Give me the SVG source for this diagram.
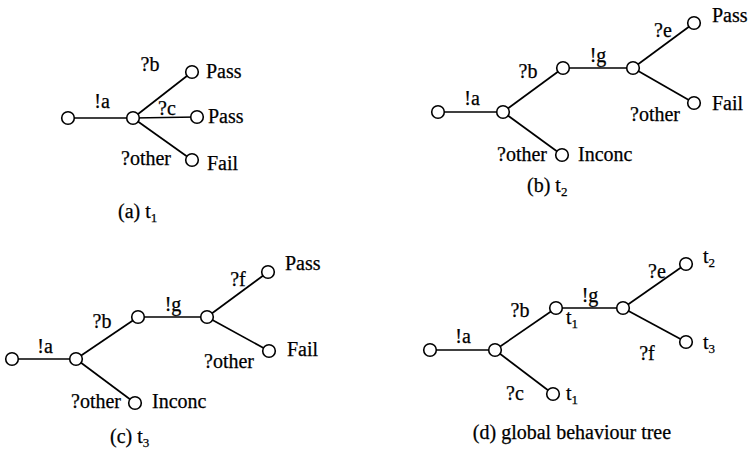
<svg xmlns="http://www.w3.org/2000/svg" width="748" height="457" viewBox="0 0 748 457">
<style>
.e{stroke:#000;stroke-width:1.7;fill:none}
text{font-family:"Liberation Serif","Times New Roman",serif;font-size:20px;fill:#000;stroke:#000;stroke-width:0.25}
.m{text-anchor:middle}
.s{font-size:13px}
</style>
<defs><circle id="c" r="6.3" fill="#fff" stroke="#000" stroke-width="1.6"/></defs>
<rect width="748" height="457" fill="#fff"/>

<!-- (a) -->
<g id="conn-a">
<line class="e" x1="68" y1="118" x2="133" y2="118"/>
<line class="e" x1="133" y1="118" x2="192" y2="72"/>
<line class="e" x1="133" y1="118" x2="197" y2="117"/>
<line class="e" x1="133" y1="118" x2="192" y2="160"/>
</g>
<g id="a-root" class="n"><use href="#c" x="68" y="118"/></g>
<g id="a-n1" class="n"><use href="#c" x="133" y="118"/></g>
<g id="a-pass1" class="n"><use href="#c" x="192" y="72"/><text x="206" y="78">Pass</text></g>
<g id="a-pass2" class="n"><use href="#c" x="197" y="117"/><text x="208" y="123">Pass</text></g>
<g id="a-fail" class="n"><use href="#c" x="192" y="160"/><text x="207" y="170">Fail</text></g>
<g id="a-labels">
<text class="m" x="102" y="108">!a</text>
<text class="m" x="150" y="71">?b</text>
<text class="m" x="167" y="115">?c</text>
<text class="m" x="146" y="165">?other</text>
<text x="118" y="218">(a) t<tspan class="s" dy="4">1</tspan></text>
</g>

<!-- (b) -->
<g id="conn-b">
<line class="e" x1="438" y1="112" x2="503" y2="112"/>
<line class="e" x1="503" y1="112" x2="563" y2="68"/>
<line class="e" x1="503" y1="112" x2="562" y2="155"/>
<line class="e" x1="563" y1="68" x2="633" y2="68"/>
<line class="e" x1="633" y1="68" x2="694" y2="23"/>
<line class="e" x1="633" y1="68" x2="694" y2="103"/>
</g>
<g id="b-root" class="n"><use href="#c" x="438" y="112"/></g>
<g id="b-n1" class="n"><use href="#c" x="503" y="112"/></g>
<g id="b-n2" class="n"><use href="#c" x="563" y="68"/></g>
<g id="b-n3" class="n"><use href="#c" x="633" y="68"/></g>
<g id="b-pass" class="n"><use href="#c" x="694" y="23"/><text x="712" y="22">Pass</text></g>
<g id="b-fail" class="n"><use href="#c" x="694" y="103"/><text x="712" y="110">Fail</text></g>
<g id="b-inconc" class="n"><use href="#c" x="562" y="155"/><text x="578" y="161">Inconc</text></g>
<g id="b-labels">
<text class="m" x="472" y="105">!a</text>
<text class="m" x="528" y="78">?b</text>
<text class="m" x="598" y="62">!g</text>
<text class="m" x="663" y="37">?e</text>
<text class="m" x="655" y="121">?other</text>
<text class="m" x="522" y="161">?other</text>
<text x="527" y="192">(b) t<tspan class="s" dy="4">2</tspan></text>
</g>

<!-- (c) -->
<g id="conn-c">
<line class="e" x1="12" y1="359" x2="76" y2="359"/>
<line class="e" x1="76" y1="359" x2="138" y2="317"/>
<line class="e" x1="76" y1="359" x2="135" y2="403"/>
<line class="e" x1="138" y1="317" x2="207" y2="317"/>
<line class="e" x1="207" y1="317" x2="268" y2="272"/>
<line class="e" x1="207" y1="317" x2="269" y2="351"/>
</g>
<g id="c-root" class="n"><use href="#c" x="12" y="359"/></g>
<g id="c-n1" class="n"><use href="#c" x="76" y="359"/></g>
<g id="c-n2" class="n"><use href="#c" x="138" y="317"/></g>
<g id="c-n3" class="n"><use href="#c" x="207" y="317"/></g>
<g id="c-pass" class="n"><use href="#c" x="268" y="272"/><text x="285" y="270">Pass</text></g>
<g id="c-fail" class="n"><use href="#c" x="269" y="351"/><text x="287" y="356">Fail</text></g>
<g id="c-inconc" class="n"><use href="#c" x="135" y="403"/><text x="152" y="408">Inconc</text></g>
<g id="c-labels">
<text class="m" x="45" y="353">!a</text>
<text class="m" x="102" y="328">?b</text>
<text class="m" x="173" y="311">!g</text>
<text class="m" x="238" y="286">?f</text>
<text class="m" x="229" y="368">?other</text>
<text class="m" x="96" y="408">?other</text>
<text x="110" y="443">(c) t<tspan class="s" dy="4">3</tspan></text>
</g>

<!-- (d) -->
<g id="conn-d">
<line class="e" x1="430" y1="350" x2="495" y2="350"/>
<line class="e" x1="495" y1="350" x2="556" y2="308"/>
<line class="e" x1="495" y1="350" x2="553" y2="394"/>
<line class="e" x1="556" y1="308" x2="623" y2="308"/>
<line class="e" x1="623" y1="308" x2="686" y2="264"/>
<line class="e" x1="623" y1="308" x2="686" y2="342"/>
</g>
<g id="d-root" class="n"><use href="#c" x="430" y="350"/></g>
<g id="d-n1" class="n"><use href="#c" x="495" y="350"/></g>
<g id="d-n2" class="n"><use href="#c" x="556" y="308"/><text x="566" y="324">t<tspan class="s" dy="4">1</tspan></text></g>
<g id="d-n3" class="n"><use href="#c" x="623" y="308"/></g>
<g id="d-t2" class="n"><use href="#c" x="686" y="264"/><text x="703" y="263">t<tspan class="s" dy="4">2</tspan></text></g>
<g id="d-t3" class="n"><use href="#c" x="686" y="342"/><text x="703" y="349">t<tspan class="s" dy="4">3</tspan></text></g>
<g id="d-t1" class="n"><use href="#c" x="553" y="394"/><text x="566" y="400">t<tspan class="s" dy="4">1</tspan></text></g>
<g id="d-labels">
<text class="m" x="463" y="343">!a</text>
<text class="m" x="520" y="317">?b</text>
<text class="m" x="590" y="302">!g</text>
<text class="m" x="657" y="278">?e</text>
<text class="m" x="647" y="360">?f</text>
<text class="m" x="515" y="400">?c</text>
<text class="m" x="572" y="439">(d) global behaviour tree</text>
</g>
</svg>
